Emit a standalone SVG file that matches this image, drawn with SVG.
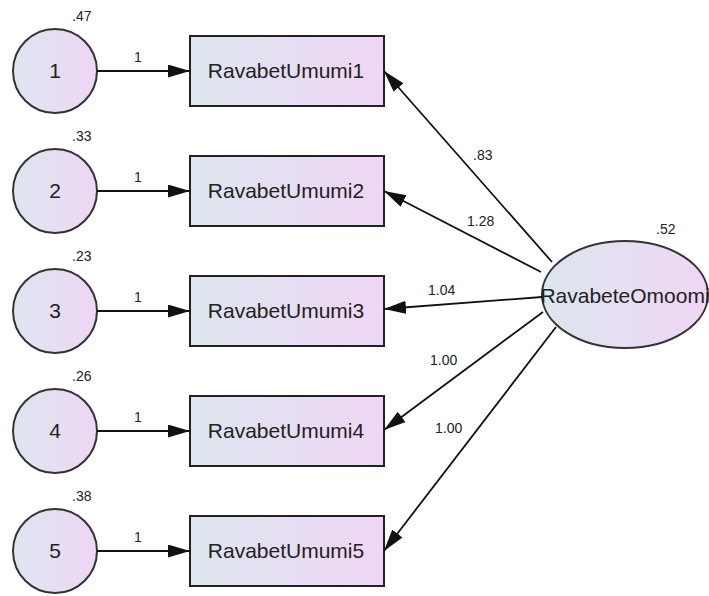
<svg xmlns="http://www.w3.org/2000/svg" width="709" height="596" viewBox="0 0 709 596">
<defs>
<linearGradient id="g" x1="0" y1="0" x2="1" y2="0">
<stop offset="0" stop-color="#dde6ee"/>
<stop offset="1" stop-color="#efd6f5"/>
</linearGradient>
<marker id="ah" markerUnits="userSpaceOnUse" markerWidth="24" markerHeight="14" refX="22" refY="6.5" orient="auto">
<path d="M0,0 L22,6.5 L0,13 Z" fill="#111"/>
</marker>
<style>
.box{fill:url(#g);stroke:#222;stroke-width:2}
.circ{fill:url(#g);stroke:#333;stroke-width:2}
.lbl{font-family:"Liberation Sans",Arial,sans-serif;fill:#222}
.big{font-size:21px;text-anchor:middle}
.sm{font-size:14px}
.conn line{stroke:#111;stroke-width:1.8;marker-end:url(#ah)}
</style>
</defs>
<rect width="709" height="596" fill="#fff"/>
<g id="e1"><circle class="circ" cx="55" cy="71" r="42"/><text class="lbl big" x="55" y="78">1</text><text class="lbl sm" x="72" y="21">.47</text></g>
<g id="e2"><circle class="circ" cx="55" cy="191" r="42"/><text class="lbl big" x="55" y="198">2</text><text class="lbl sm" x="72" y="141">.33</text></g>
<g id="e3"><circle class="circ" cx="55" cy="311" r="42"/><text class="lbl big" x="55" y="318">3</text><text class="lbl sm" x="72" y="261">.23</text></g>
<g id="e4"><circle class="circ" cx="55" cy="431" r="42"/><text class="lbl big" x="55" y="438">4</text><text class="lbl sm" x="72" y="381">.26</text></g>
<g id="e5"><circle class="circ" cx="55" cy="551" r="42"/><text class="lbl big" x="55" y="558">5</text><text class="lbl sm" x="72" y="501">.38</text></g>
<g id="v1"><rect class="box" x="190" y="36" width="194" height="70"/><text class="lbl big" x="286" y="78">RavabetUmumi1</text></g>
<g id="v2"><rect class="box" x="190" y="156" width="194" height="70"/><text class="lbl big" x="286" y="198">RavabetUmumi2</text></g>
<g id="v3"><rect class="box" x="190" y="276" width="194" height="70"/><text class="lbl big" x="286" y="318">RavabetUmumi3</text></g>
<g id="v4"><rect class="box" x="190" y="396" width="194" height="70"/><text class="lbl big" x="286" y="438">RavabetUmumi4</text></g>
<g id="v5"><rect class="box" x="190" y="516" width="194" height="70"/><text class="lbl big" x="286" y="558">RavabetUmumi5</text></g>
<g id="f"><ellipse class="circ" cx="625" cy="294.5" rx="83" ry="53.5"/><text class="lbl big" x="625" y="303">RavabeteOmoomi</text><text class="lbl sm" x="656" y="234">.52</text></g>
<g class="conn" id="connectors">
<line x1="97" y1="71" x2="190" y2="71"/>
<line x1="97" y1="191" x2="190" y2="191"/>
<line x1="97" y1="311" x2="190" y2="311"/>
<line x1="97" y1="431" x2="190" y2="431"/>
<line x1="97" y1="551" x2="190" y2="551"/>
<line x1="552" y1="262" x2="384" y2="71"/>
<line x1="541" y1="272" x2="384" y2="191"/>
<line x1="542" y1="297" x2="384" y2="309"/>
<line x1="543" y1="312" x2="384" y2="430"/>
<line x1="556" y1="327" x2="384" y2="551"/>
</g>
<g id="labels">
<text class="lbl sm" x="134" y="62">1</text>
<text class="lbl sm" x="134" y="182">1</text>
<text class="lbl sm" x="134" y="302">1</text>
<text class="lbl sm" x="134" y="422">1</text>
<text class="lbl sm" x="134" y="542">1</text>
<text class="lbl sm" x="473" y="160">.83</text>
<text class="lbl sm" x="467" y="226">1.28</text>
<text class="lbl sm" x="428" y="295">1.04</text>
<text class="lbl sm" x="430" y="365">1.00</text>
<text class="lbl sm" x="435" y="433">1.00</text>
</g>
</svg>
